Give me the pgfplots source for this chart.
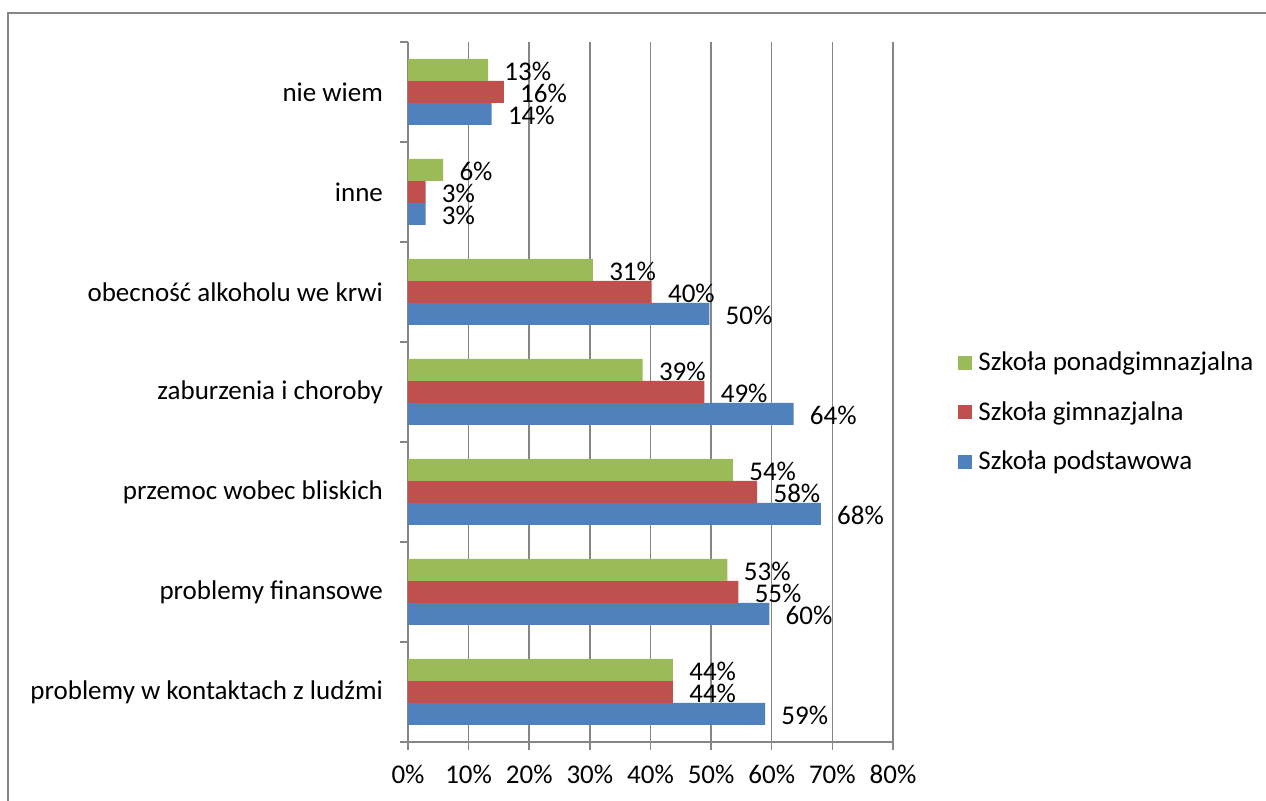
\documentclass[border=0pt]{standalone}
\usepackage{fontspec}
\setmainfont{Carlito}
\usepackage{pgfplots}
\usepackage{pgfplotstable}
\pgfplotsset{compat=1.18}
\definecolor{cblue}{HTML}{4F81BD}
\definecolor{cred}{HTML}{C0504D}
\definecolor{cgreen}{HTML}{9BBB59}
\definecolor{cgrid}{HTML}{868686}

\pgfplotstableread{
idx pod gim pon lpod lgim lpon
0 58.9 43.7 43.7 59 44 44
1 59.6 54.5 52.7 60 55 53
2 68.1 57.6 53.6 68 58 54
3 63.6 48.9 38.7 64 49 39
4 49.7 40.2 30.5 50 40 31
5 2.9 2.9 5.8 3 3 6
6 13.8 15.8 13.2 14 16 13
}\datatable

\begin{document}
\begin{tikzpicture}[font=\fontsize{13.5pt}{16pt}\selectfont]
\useasboundingbox (0,0) rectangle (633pt,400.5pt);
\draw[cgrid, line width=0.7pt] (4pt,-10pt) -- (4pt,394pt) -- (650pt,394pt);
\begin{axis}[
  at={(204pt,29.5pt)}, anchor=south west,
  scale only axis, width=242.5pt, height=350pt,
  xbar, bar width=11pt,
  xmin=0, xmax=80, ymin=-0.5, ymax=6.5,
  axis x line*=bottom, axis y line*=left,
  axis line style={cgrid, line width=0.75pt},
  xtick={0,10,...,80},
  xticklabels={0\%,10\%,20\%,30\%,40\%,50\%,60\%,70\%,80\%},
  ytick={0,...,6},
  yticklabels={problemy w kontaktach z ludźmi, problemy finansowe, przemoc wobec bliskich, zaburzenia i choroby, obecność alkoholu we krwi, inne, nie wiem},
  minor ytick={-0.5,0.5,...,6.5},
  tick align=outside,
  major tick length=4pt, minor tick length=4pt,
  major y tick style={draw=none},
  minor y tick style={draw=cgrid, line width=0.75pt},
  xtick style={draw=cgrid, line width=0.75pt},
  xmajorgrids, grid style={cgrid, line width=0.75pt},
  /pgf/number format/assume math mode=true,
  tick label style={text=black},
  xticklabel style={yshift=-4pt},
  yticklabel style={xshift=-5pt},
  point meta=explicit,
  nodes near coords={\pgfmathprintnumber{\pgfplotspointmeta}\%},
  every node near coord/.append style={anchor=west, xshift=8pt, yshift=-0.75pt, inner sep=0pt, text=black},
  legend style={draw=none, fill=none, at={(axis description cs:1.134,0.471)}, anchor=west, inner sep=0pt, row sep=11pt, nodes={inner sep=1.5pt}},
  reverse legend,
  legend cell align=left,
  legend image code/.code={\fill (0pt,-3.5pt) rectangle (7pt,3.5pt);},
]
\addplot[fill=cblue, draw=none, bar shift=-11pt] table[x=pod,y=idx,meta=lpod]{\datatable};
\addplot[fill=cred, draw=none, bar shift=0pt] table[x=gim,y=idx,meta=lgim]{\datatable};
\addplot[fill=cgreen, draw=none, bar shift=11pt] table[x=pon,y=idx,meta=lpon]{\datatable};
\legend{\hspace{1.5pt}Szkoła podstawowa, \hspace{1.5pt}Szkoła gimnazjalna, \hspace{1.5pt}Szkoła ponadgimnazjalna}
\end{axis}
\end{tikzpicture}
\end{document}
